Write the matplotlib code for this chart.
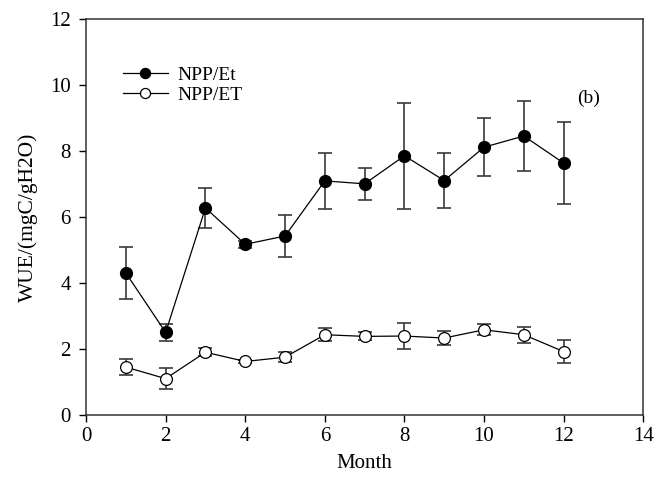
import matplotlib.pyplot as plt
import numpy as np

plt.rcParams['font.family'] = ['Liberation Serif', 'DejaVu Serif']

month = np.arange(1, 13)
npp_et_lower = [4.30, 2.50, 6.27, 5.17, 5.42, 7.09, 7.00, 7.85, 7.10, 8.11, 8.45, 7.63]
npp_et_lower_err = [0.80, 0.25, 0.60, 0.10, 0.64, 0.85, 0.49, 1.61, 0.83, 0.87, 1.07, 1.23]
npp_et_upper = [1.45, 1.10, 1.90, 1.62, 1.75, 2.43, 2.38, 2.39, 2.33, 2.58, 2.43, 1.92]
npp_et_upper_err = [0.23, 0.31, 0.12, 0.05, 0.15, 0.20, 0.12, 0.40, 0.20, 0.17, 0.24, 0.34]

fig = plt.figure(figsize=(6.57, 4.94), dpi=100)
ax = fig.add_axes([0.131, 0.160, 0.848, 0.802])

ax.errorbar(month, npp_et_lower, yerr=npp_et_lower_err, fmt='none',
            ecolor='#3a3a3a', elinewidth=1.2, capsize=5, capthick=1.2, zorder=1)
ax.errorbar(month, npp_et_upper, yerr=npp_et_upper_err, fmt='none',
            ecolor='#3a3a3a', elinewidth=1.2, capsize=5, capthick=1.2, zorder=1)
ax.plot(month, npp_et_lower, '-o', color='black', lw=0.9, ms=8.5,
        mfc='black', mec='black', label='NPP/Et', zorder=3)
ax.plot(month, npp_et_upper, '-o', color='black', lw=0.9, ms=8.5,
        mfc='white', mec='black', mew=0.9, label='NPP/ET', zorder=3)

ax.set_xlim(0, 14)
ax.set_ylim(0, 12)
ax.set_xticks(range(0, 15, 2))
ax.set_yticks(range(0, 13, 2))
ax.tick_params(direction='out', length=5, width=1, labelsize=15, top=False, right=False)
ax.tick_params(axis='y', pad=6)
for s in ax.spines.values():
    s.set_linewidth(1.1)
    s.set_color('#333333')

ax.set_xlabel('Month', fontsize=15, labelpad=6)
ax.set_ylabel('WUE/(mgC/gH2O)', fontsize=15.5, labelpad=9)
ax.text(12.35, 9.45, '(b)', fontsize=14)

ax.legend(loc='upper left', bbox_to_anchor=(0.035, 0.925), frameon=False,
          fontsize=14, handlelength=2.3, handletextpad=0.5, labelspacing=0.15,
          markerscale=0.85)

fig.savefig('out.png', dpi=100)
